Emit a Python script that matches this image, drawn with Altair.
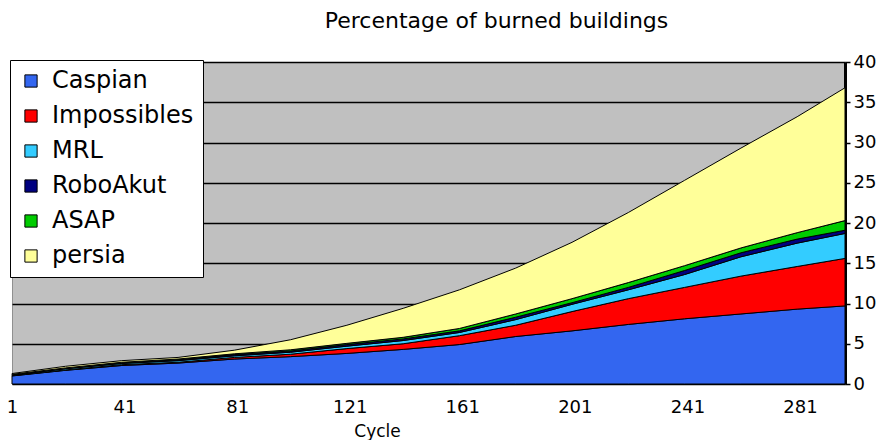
import altair as alt
import pandas as pd

cycles = [1, 20, 40, 60, 80, 100, 120, 140, 160, 180, 200, 220, 240, 260, 280, 297]
caspian = [1.0, 1.7, 2.3, 2.6, 3.1, 3.4, 3.8, 4.3, 4.9, 5.9, 6.6, 7.4, 8.1, 8.7, 9.3, 9.7]
impossibles = [0.05, 0.05, 0.1, 0.1, 0.2, 0.3, 0.6, 0.7, 1.1, 1.4, 2.4, 3.2, 3.9, 4.7, 5.3, 5.9]
mrl = [0.05, 0.15, 0.15, 0.2, 0.2, 0.25, 0.3, 0.4, 0.4, 0.7, 0.9, 1.1, 1.6, 2.4, 2.9, 3.1]
roboakut = [0.05, 0.05, 0.1, 0.1, 0.15, 0.15, 0.2, 0.2, 0.2, 0.3, 0.2, 0.3, 0.5, 0.5, 0.5, 0.4]
asap = [0.05, 0.05, 0.05, 0.1, 0.1, 0.15, 0.15, 0.2, 0.3, 0.4, 0.5, 0.6, 0.6, 0.6, 0.8, 1.2]
persia = [0.1, 0.2, 0.2, 0.2, 0.45, 1.25, 2.25, 3.6, 4.8, 5.7, 7.0, 8.7, 10.6, 12.4, 14.4, 16.5]

teams = ["Caspian", "Impossibles", "MRL", "RoboAkut", "ASAP", "persia"]
colors = ["#3366F0", "#FF0000", "#33CCFF", "#000080", "#00CC00", "#FFFF99"]
series = [caspian, impossibles, mrl, roboakut, asap, persia]
x_ticks = [1, 41, 81, 121, 161, 201, 241, 281]
y_ticks = [0, 5, 10, 15, 20, 25, 30, 35, 40]

rows = []
for i, (team, vals) in enumerate(zip(teams, series)):
    for c, v in zip(cycles, vals):
        rows.append({"Cycle": c, "Team": team, "Value": v, "idx": i})
df = pd.DataFrame(rows)

chart = alt.Chart(df).mark_area(
    stroke="black", strokeWidth=1, interpolate="linear", opacity=1
).encode(
    x=alt.X("Cycle:Q",
            scale=alt.Scale(domain=[1, 297], nice=False, zero=False),
            axis=alt.Axis(values=x_ticks, title="Cycle", grid=False,
                          domain=False, ticks=False, labelPadding=14,
                          labelFontSize=18, labelFont="DejaVu Sans",
                          labelColor="black", labelFlush=False,
                          titleFontSize=17, titleFont="DejaVu Sans",
                          titleFontWeight="normal", titleColor="black",
                          titleBaseline="bottom",
                          titleX=365, titleY=56)),
    y=alt.Y("Value:Q", stack="zero",
            scale=alt.Scale(domain=[0, 40], nice=False),
            axis=alt.Axis(orient="right", values=y_ticks, title=None,
                          grid=True, gridColor="black", gridWidth=1.5,
                          domain=True, domainColor="black", domainWidth=3,
                          ticks=True, tickColor="black", tickSize=5,
                          tickWidth=1.5, labelPadding=3,
                          labelFontSize=18, labelFont="DejaVu Sans",
                          labelColor="black")),
    color=alt.Color("Team:N",
                    scale=alt.Scale(domain=teams, range=colors),
                    legend=alt.Legend(title=None, orient="none",
                                      legendX=-2, legendY=-2,
                                      fillColor="white", strokeColor="black",
                                      padding=9, symbolType="square",
                                      symbolSize=150, symbolStrokeColor="black",
                                      symbolStrokeWidth=1, symbolOpacity=1,
                                      labelFontSize=24, labelFont="DejaVu Sans",
                                      labelColor="black", rowPadding=11,
                                      labelOffset=9)),
    order=alt.Order("idx:Q", sort="ascending"),
).properties(
    width=833, height=322,
    background="white",
    title=alt.TitleParams("Percentage of burned buildings", fontSize=22,
                          font="DejaVu Sans", fontWeight="normal",
                          color="black", anchor="middle", dx=68, offset=20),
    autosize=alt.AutoSizeParams(type="none"),
    padding={"left": 4, "top": 54, "right": 33, "bottom": 56},
).configure_view(
    fill="#C0C0C0", stroke="#909090", strokeWidth=1
)

chart.save("out.html", embed_options={"renderer": "svg", "actions": False})
